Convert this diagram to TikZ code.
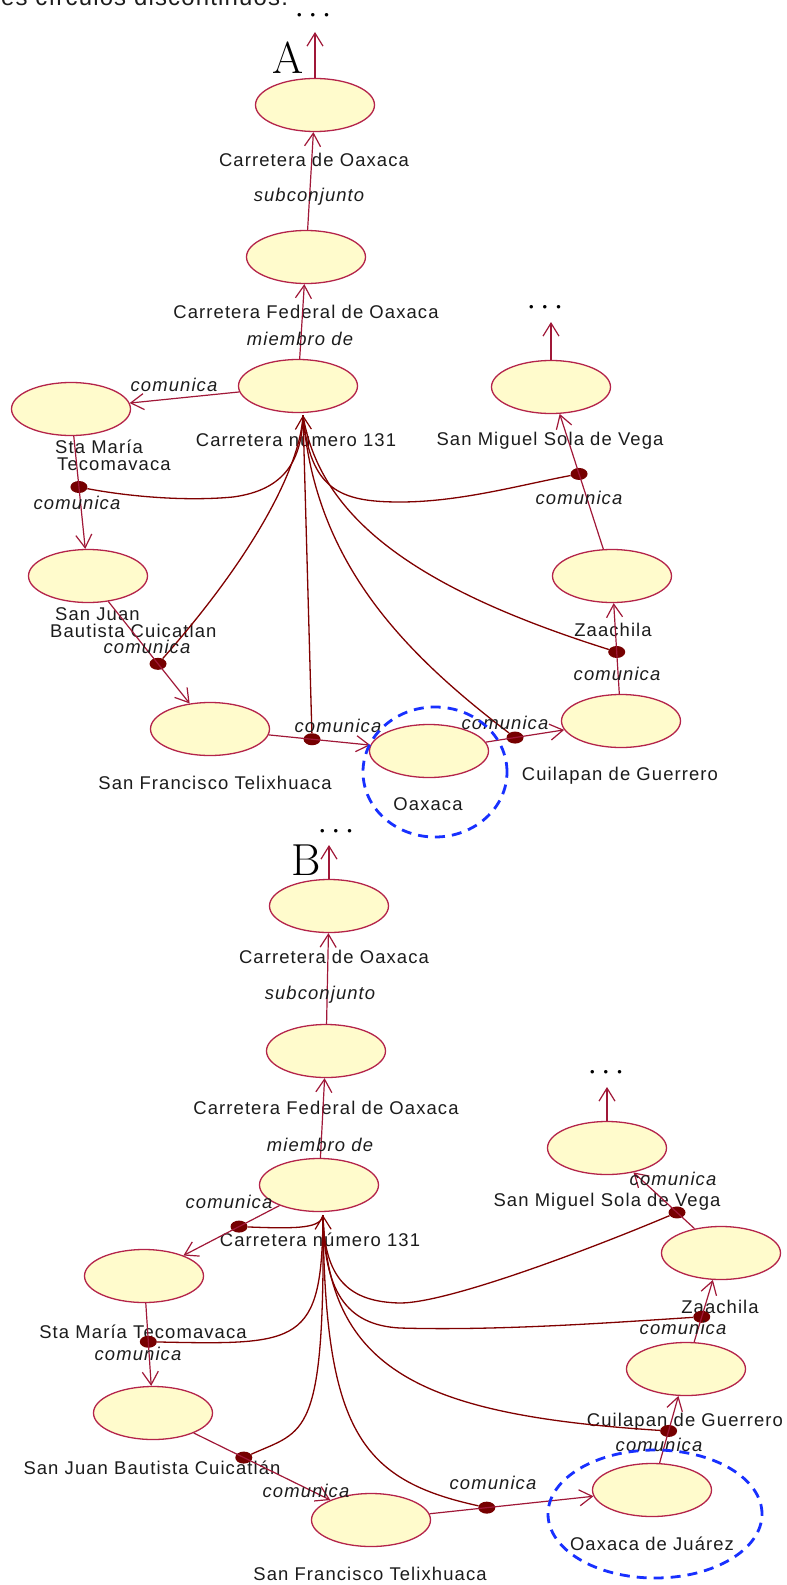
\documentclass[tikz,border=0pt]{standalone}
\usepackage{fontspec}
\newfontfamily\labfont{Liberation Sans}[LetterSpace=6]
\newfontfamily\headfont{Liberation Sans}[LetterSpace=5]
\usetikzlibrary{shapes.geometric,arrows.meta,calc}

\definecolor{ucfill}{RGB}{255,251,204}
\definecolor{ucline}{RGB}{180,36,74}
\definecolor{linkc}{RGB}{160,24,56}
\definecolor{curvec}{RGB}{128,0,0}
\definecolor{dotc}{RGB}{118,0,0}
\definecolor{ringc}{RGB}{24,48,255}
\definecolor{txt}{RGB}{28,28,28}

\begin{document}
\begin{tikzpicture}[x=1bp,y=-1bp,
  uc/.style={ellipse, draw=ucline, fill=ucfill, line width=1.3bp,
    minimum width=119bp, minimum height=53bp, inner sep=0pt},
  placename/.style={font=\labfont\fontsize{18.5}{19}\selectfont, text=txt, inner sep=0pt},
  relname/.style={font=\labfont\itshape\fontsize{18.5}{19}\selectfont, text=txt, inner sep=0pt},
  barb/.tip={Straight Barb[length=13bp,width=16bp,line width=1.2bp]},
  linkarrow/.style={draw=linkc, line width=1.2bp, -barb},
  hubline/.style={draw=curvec, line width=1.3bp},
  hubarrow/.style={draw=curvec, line width=1.3bp, barb-},
  jointdot/.style={ellipse, fill=dotc, minimum width=17bp, minimum height=12bp, inner sep=0pt},
  dashring/.style={ellipse, draw=ringc, line width=2.8bp, dash pattern=on 10bp off 7bp, inner sep=0pt},
  ellipsisdots/.style={font=\labfont\fontsize{13}{13}\selectfont, inner sep=0pt},
  partletter/.style={font=\fontsize{45}{45}\selectfont, inner sep=0pt}
]
\useasboundingbox (0,0) rectangle (787,1585);
\fill[white] (0,0) rectangle (787,1585);

% clipped line of running text above the figure
\begin{scope}
  \clip (0,0) rectangle (787,30);
  \node[font=\headfont\fontsize{24}{24}\selectfont, anchor=base west, inner sep=0pt, text=txt] (headline) at (1,6) {es círculos discontinuos.};
\end{scope}

% ================= Part A =================
\node[uc] (a1) at (315,105) {};
\node[uc] (a2) at (306,257) {};
\node[uc] (a3) at (298,386) {};
\node[uc] (aSM) at (71,409) {};
\node[uc] (aSJ) at (88,576) {};
\node[uc] (aSF) at (210,729) {};
\node[uc] (aOx) at (429,751) {};
\node[uc] (aCu) at (621,721) {};
\node[uc] (aZa) at (612,576) {};
\node[uc] (aSMi) at (551,387) {};

\node[placename] (a1t) at (314,160) {Carretera de Oaxaca};
\node[placename] (a2t) at (306,312) {Carretera Federal de Oaxaca};
\node[placename] (a3t) at (296,440) {Carretera número 131};
\node[placename, anchor=base west] (aSMt1) at (55,453) {Sta María};
\node[placename, anchor=base west] (aSMt2) at (57,470) {Tecomavaca};
\node[placename, anchor=base west] (aSJt1) at (55,620) {San Juan};
\node[placename, anchor=base west] (aSJt2) at (50,637) {Bautista Cuicatlan};
\node[placename] (aSFt) at (215,783) {San Francisco Telixhuaca};
\node[placename] (aOxt) at (428,804) {Oaxaca};
\node[placename] (aCut) at (620,776) {Cuilapan de Guerrero};
\node[placename] (aZat) at (613,630) {Zaachila};
\node[placename] (aSMit) at (550,441) {San Miguel Sola de Vega};

\node[partletter] (aLetter) at (288,58) {A};
\node[ellipsisdots] (aMore) at (313,16) {•\hspace{9bp}•\hspace{9bp}•};
\node[ellipsisdots] (aSMiMore) at (545,308) {•\hspace{9bp}•\hspace{9bp}•};
\coordinate (aTop) at (315,32);
\coordinate (aSMiTop) at (551,322);

% joints on the "comunica" links
\node[jointdot] (aD1) at ($(aSM)!0.467!(aSJ)$) {};
\node[jointdot] (aD2) at ($(aSJ)!0.574!(aSF)$) {};
\node[jointdot] (aD3) at ($(aSF)!0.466!(aOx)$) {};
\node[jointdot] (aD4) at ($(aOx)!0.448!(aCu)$) {};
\node[jointdot] (aD5) at ($(aCu)!0.476!(aZa)$) {};
\node[jointdot] (aD6) at ($(aZa)!0.54!(aSMi)$) {};
\coordinate (aHub) at ($(a3.south)+(5,2)$);

% hierarchy and links
\draw[linkarrow] (a1) -- (aTop);
\draw[linkarrow] (a2) -- (a1);
\draw[linkarrow] (a3) -- (a2);
\draw[linkarrow] (a3) -- (aSM);
\draw[linkarrow] (aSM) -- (aSJ);
\draw[linkarrow] (aSJ) -- (aSF);
\draw[linkarrow] (aSF) -- (aOx);
\draw[linkarrow] (aOx) -- (aCu);
\draw[linkarrow] (aCu) -- (aZa);
\draw[linkarrow] (aZa) -- (aSMi);
\draw[linkarrow] (aSMi) -- (aSMiTop);

% connectors from the road to each link
\draw[hubline] (aHub) .. controls (302,460) and (285,490) .. (233,497)
  .. controls (180,502) and (120,495) .. (aD1);
\draw[hubline] (aHub) .. controls (300,470) and (250,560) .. (aD2);
\draw[hubarrow] (aHub) -- (aD3);
\draw[hubline] (aHub) .. controls (315,560) and (400,650) .. (aD4);
\draw[hubline] (aHub) .. controls (320,520) and (420,590) .. (aD5);
\draw[hubline] (aHub) .. controls (310,490) and (340,502) .. (400,502)
  .. controls (460,502) and (520,485) .. (aD6);

\node[relname] (aL1) at (309,197) {subconjunto};
\node[relname] (aL2) at (300,339) {miembro de};
\node[relname] (aL3) at (174,385) {comunica};
\node[relname] (aL4) at (77,503) {comunica};
\node[relname] (aL5) at (147,647) {comunica};
\node[relname] (aL6) at (338,726) {comunica};
\node[relname] (aL7) at (505,723) {comunica};
\node[relname] (aL8) at (617,674) {comunica};
\node[relname] (aL9) at (579,498) {comunica};

\node[dashring, minimum width=144bp, minimum height=130bp] (aRing) at (435,772) {};

% ================= Part B =================
\node[uc] (b1) at (329,906) {};
\node[uc] (b2) at (326,1051) {};
\node[uc] (b3) at (319,1185) {};
\node[uc] (bSM) at (144,1276) {};
\node[uc] (bSJ) at (153,1413) {};
\node[uc] (bSF) at (371,1520) {};
\node[uc] (bOx) at (652,1490) {};
\node[uc] (bCu) at (686,1369) {};
\node[uc] (bZa) at (721,1253) {};
\node[uc] (bSMi) at (607,1148) {};

\node[placename] (b1t) at (334,957) {Carretera de Oaxaca};
\node[placename] (b2t) at (326,1108) {Carretera Federal de Oaxaca};
\node[placename] (b3t) at (320,1240) {Carretera número 131};
\node[placename] (bSMt) at (143,1332) {Sta María Tecomavaca};
\node[placename] (bSJt) at (152,1468) {San Juan Bautista Cuicatlán};
\node[placename] (bSFt) at (370,1574) {San Francisco Telixhuaca};
\node[placename] (bOxt) at (652,1544) {Oaxaca de Juárez};
\node[placename] (bCut) at (685,1422) {Cuilapan de Guerrero};
\node[placename] (bZat) at (720,1307) {Zaachila};
\node[placename] (bSMit) at (607,1202) {San Miguel Sola de Vega};

\node[partletter] (bLetter) at (306,860) {B};
\node[ellipsisdots] (bMore) at (336,832) {•\hspace{9bp}•\hspace{9bp}•};
\node[ellipsisdots] (bSMiMore) at (606,1073) {•\hspace{9bp}•\hspace{9bp}•};
\coordinate (bTop) at (329,845);
\coordinate (bSMiTop) at (607,1087);

\node[jointdot] (bD1) at ($(b3)!0.457!(bSM)$) {};
\node[jointdot] (bD2) at ($(bSM)!0.48!(bSJ)$) {};
\node[jointdot] (bD3) at ($(bSJ)!0.4165!(bSF)$) {};
\node[jointdot] (bD4) at ($(bSF)!0.412!(bOx)$) {};
\node[jointdot] (bD5) at ($(bOx)!0.488!(bCu)$) {};
\node[jointdot] (bD6) at ($(bCu)!0.45!(bZa)$) {};
\node[jointdot] (bD7) at ($(bZa)!0.386!(bSMi)$) {};
\coordinate (bHub) at ($(b3.south)+(4,3)$);

\draw[linkarrow] (b1) -- (bTop);
\draw[linkarrow] (b2) -- (b1);
\draw[linkarrow] (b3) -- (b2);
\draw[linkarrow] (b3) -- (bSM);
\draw[linkarrow] (bSM) -- (bSJ);
\draw[linkarrow] (bSJ) -- (bSF);
\draw[linkarrow] (bSF) -- (bOx);
\draw[linkarrow] (bOx) -- (bCu);
\draw[linkarrow] (bCu) -- (bZa);
\draw[linkarrow] (bZa) -- (bSMi);
\draw[linkarrow] (bSMi) -- (bSMiTop);

\draw[hubline] (bHub) .. controls (321,1228) and (300,1229) .. (bD1);
\draw[hubline] (bHub) .. controls (322,1345) and (300,1345) .. (bD2);
\draw[hubline] (bHub) .. controls (325,1440) and (305,1430) .. (bD3);
\draw[hubarrow] (bHub) .. controls (325,1430) and (360,1480) .. (bD4);
\draw[hubline] (bHub) .. controls (328,1370) and (420,1415) .. (bD5);
\draw[hubline] (bHub) .. controls (324,1290) and (345,1325) .. (400,1328)
  .. controls (500,1331) and (620,1322) .. (bD6);
\draw[hubline] (bHub) .. controls (324,1280) and (350,1302) .. (400,1303)
  .. controls (450,1303) and (600,1245) .. (bD7);

\node[relname] (bL1) at (320,995) {subconjunto};
\node[relname] (bL2) at (320,1145) {miembro de};
\node[relname] (bL3) at (229,1202) {comunica};
\node[relname] (bL4) at (138,1354) {comunica};
\node[relname] (bL5) at (306,1491) {comunica};
\node[relname] (bL6) at (493,1483) {comunica};
\node[relname] (bL7) at (659,1445) {comunica};
\node[relname] (bL8) at (683,1328) {comunica};
\node[relname] (bL9) at (673,1179) {comunica};

\node[dashring, minimum width=214bp, minimum height=128bp] (bRing) at (655,1514) {};
\end{tikzpicture}
\end{document}
